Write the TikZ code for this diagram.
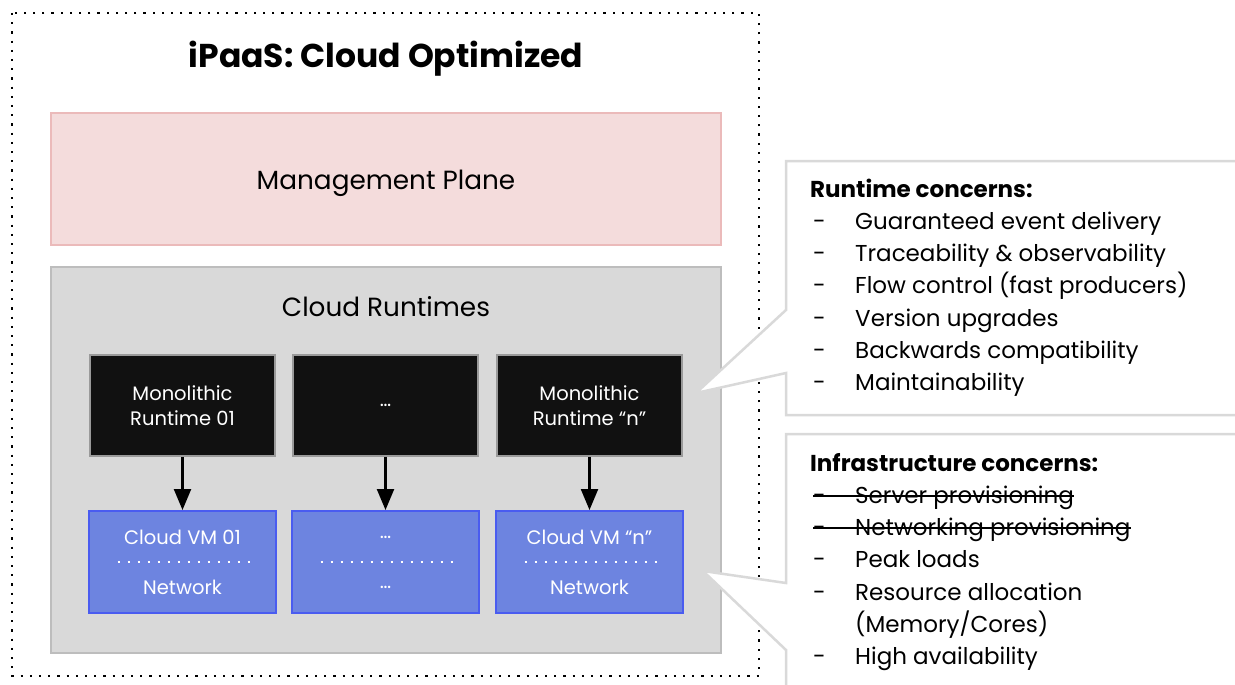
\documentclass[tikz,border=0pt]{standalone}
\usepackage{fontspec}
\setmainfont{Poppins}
\usetikzlibrary{arrows.meta,calc}

\definecolor{mgmtfill}{HTML}{F4DCDC}
\definecolor{mgmtline}{HTML}{EBBABA}
\definecolor{rtfill}{HTML}{D9D9D9}
\definecolor{rtline}{HTML}{BDBDBD}
\definecolor{monofill}{HTML}{111111}
\definecolor{monoline}{HTML}{9A9A9A}
\definecolor{vmfill}{HTML}{6D84E0}
\definecolor{vmline}{HTML}{4A5CF0}
\definecolor{callline}{HTML}{D9D9D9}

\tikzset{
  frame/.style={line width=2.2pt, dash pattern=on 2.2pt off 7pt},
  mgmtbox/.style={draw=mgmtline, fill=mgmtfill, line width=1.5pt, inner sep=0pt},
  rtbox/.style={draw=rtline, fill=rtfill, line width=1.5pt, inner sep=0pt},
  monobox/.style={draw=monoline, fill=monofill, line width=1.5pt, inner sep=0pt,
    minimum width=185pt, minimum height=101pt, text=white, align=center,
    font=\fontsize{19.5}{24.5}\selectfont},
  vmbox/.style={draw=vmline, fill=vmfill, line width=2pt, inner sep=0pt,
    minimum width=187pt, minimum height=102pt},
  vmtext/.style={text=white, inner sep=0pt, font=\fontsize{19.5}{22}\selectfont},
  sep/.style={white, line width=2pt, dash pattern=on 2pt off 8pt},
  arr/.style={line width=2.3pt, -{Triangle[length=21pt,width=17pt]}},
  callout/.style={draw=callline, fill=white, line width=2.5pt, line join=miter},
  head/.style={anchor=base west, inner sep=0pt, font=\fontsize{23}{26}\bfseries\selectfont},
  dashmark/.style={anchor=base west, inner sep=0pt, font=\fontsize{23}{26}\selectfont},
  item/.style={anchor=base west, inner sep=0pt, font=\fontsize{23}{26}\selectfont},
  boxlabel/.style={anchor=base, inner sep=0pt, font=\fontsize{26.3}{30}\selectfont},
  strike/.style={line width=1.6pt},
}

\begin{document}
\begin{tikzpicture}[x=1pt,y=-1pt]
\useasboundingbox (0,0) rectangle (1235,685);
\clip (0,0) rectangle (1235,685);
\fill[white] (0,0) rectangle (1235,685);

% outer dotted frame and title
\draw[frame] (12,13) rectangle (759,676);
\node[inner sep=0pt, anchor=base, font=\fontsize{33}{38}\bfseries\selectfont] (title) at (386,67) {iPaaS: Cloud Optimized};

% management plane
\node[mgmtbox, minimum width=670pt, minimum height=132pt] (mgmt) at (386,179) {};
\node[boxlabel] (mgmtlabel) at (386,189) {Management Plane};

% cloud runtimes container
\node[rtbox, minimum width=670pt, minimum height=386pt] (rt) at (386,460) {};
\node[boxlabel] (rtlabel) at (386,316) {Cloud Runtimes};

% runtimes
\node[monobox] (m1) at (182.5,405.5) {Monolithic\\Runtime 01};
\node[monobox] (m2) at (385.5,405.5) {…};
\node[monobox] (m3) at (589.5,405.5) {Monolithic\\Runtime “n”};

% cloud VMs
\node[vmbox] (v1) at (182.5,562) {};
\node[vmbox] (v2) at (385.5,562) {};
\node[vmbox] (v3) at (589.5,562) {};

\foreach \v/\top/\bot in {v1/Cloud VM 01/Network, v2/…/…, v3/Cloud VM “n”/Network}{
  \node[vmtext] (\v-top) at ($(\v.center)+(0,-25)$) {\top};
  \node[vmtext] (\v-bot) at ($(\v.center)+(0,25)$) {\bot};
  \draw[sep] ($(\v.center)+(-65,0)$) -- ($(\v.center)+(67,0)$);
}

% arrows
\draw[arr] (m1.south) -- (v1.north);
\draw[arr] (m2.south) -- (v2.north);
\draw[arr] (m3.south) -- (v3.north);

% runtime concerns callout
\draw[callout] (786,161) -- (1250,161) -- (1250,415) -- (786,415) -- (786,373) -- (696,393) -- (786,310) -- cycle;
\node[head] (rh) at (810,197) {Runtime concerns:};
\foreach \t [count=\i] in {Guaranteed event delivery, Traceability \& observability,
  Flow control (fast producers), Version upgrades, Backwards compatibility, Maintainability}{
  \node[dashmark] (rd\i) at (813,{197+32.3*\i}) {-};
  \node[item] (ri\i) at (855,{197+32.3*\i}) {\t};
}

% infrastructure concerns callout
\draw[callout] (786,434) -- (1250,434) -- (1250,700) -- (786,700) -- (786,650) -- (703,571) -- (786,583) -- cycle;
\node[head] (ih) at (810,471) {Infrastructure concerns:};
\node[dashmark] (id1) at (813,503) {-};
\node[item] (ii1) at (855,503) {Server provisioning};
\node[dashmark] (id2) at (813,535) {-};
\node[item] (ii2) at (855,535) {Networking provisioning};
\node[dashmark] (id3) at (813,567) {-};
\node[item] (ii3) at (855,567) {Peak loads};
\node[dashmark] (id4) at (813,600) {-};
\node[item] (ii4) at (855,600) {Resource allocation};
\node[item] (ii4b) at (855,632) {(Memory/Cores)};
\node[dashmark] (id5) at (813,664) {-};
\node[item] (ii5) at (855,664) {High availability};

% struck-out items
\draw[strike] ([yshift=7pt]id1.base west) -- ([yshift=7pt]ii1.base east);
\draw[strike] ([yshift=7pt]id2.base west) -- ([yshift=7pt]ii2.base east);
\end{tikzpicture}
\end{document}
